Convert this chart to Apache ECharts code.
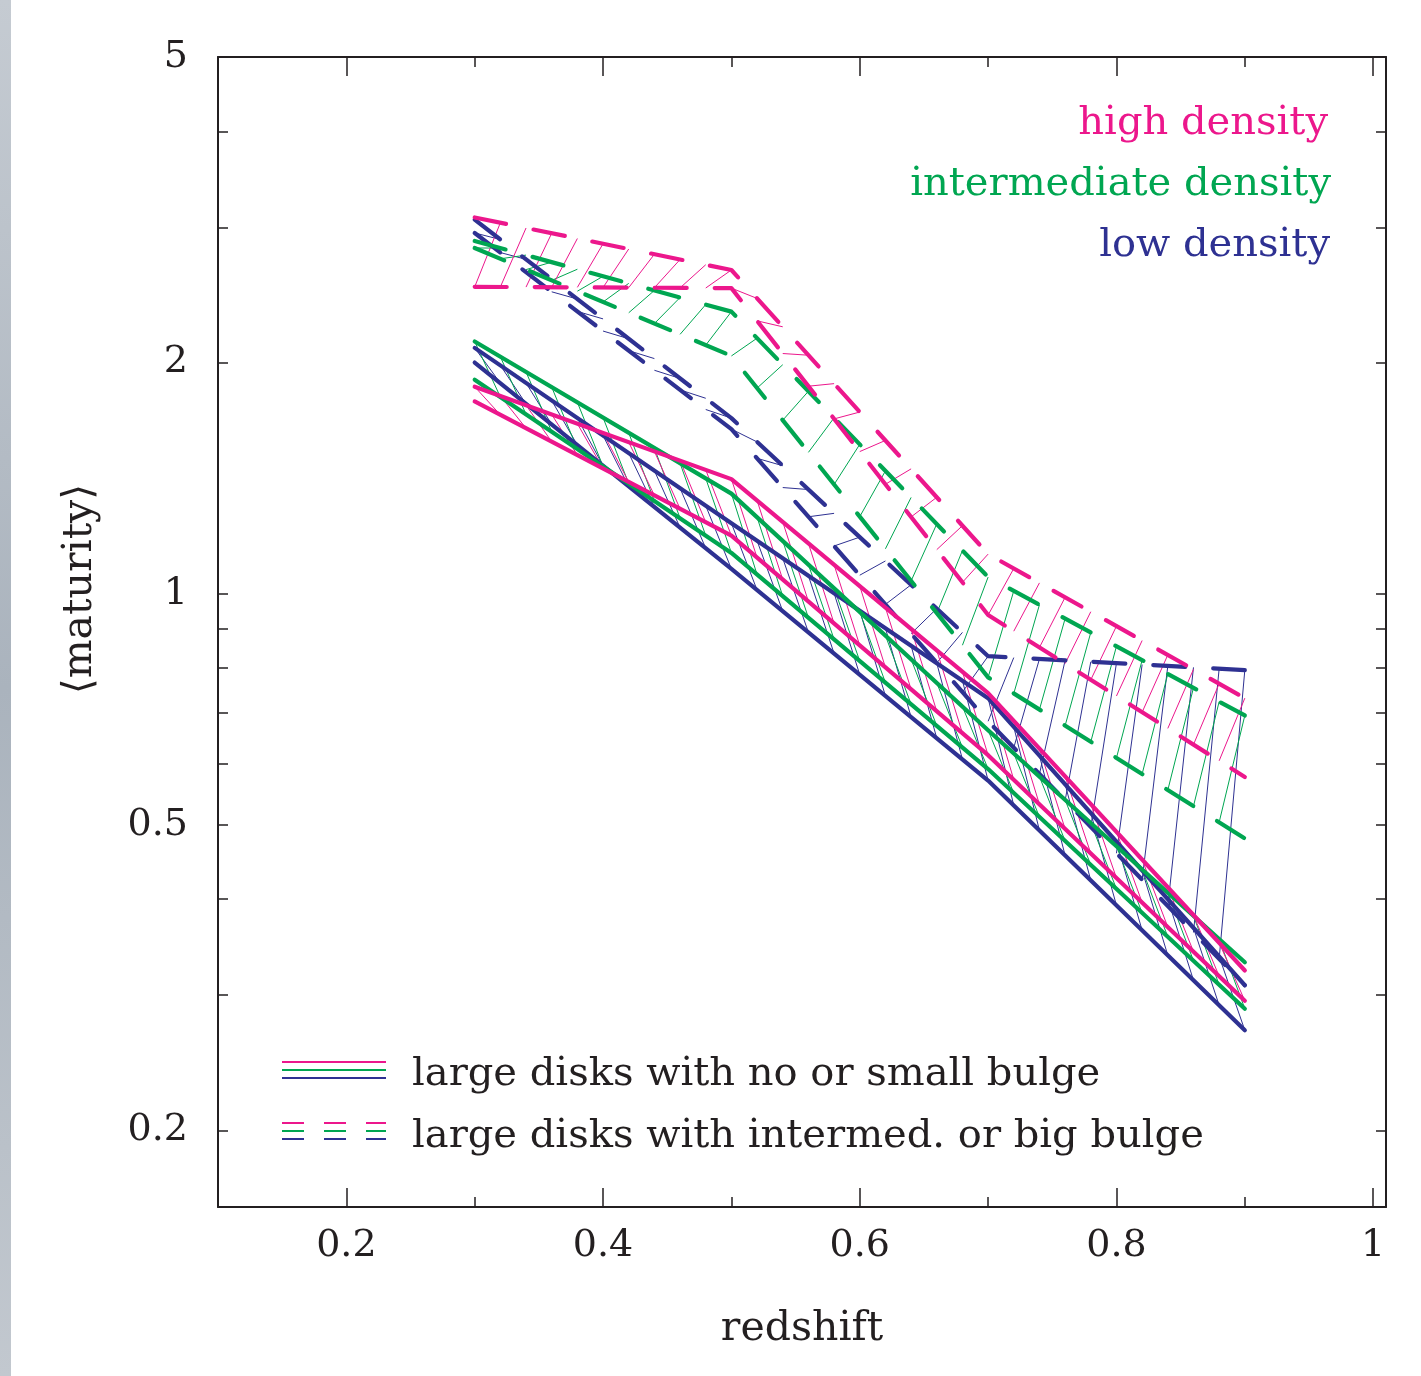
<!DOCTYPE html>
<html><head><meta charset="utf-8">
<script src="https://cdn.jsdelivr.net/npm/echarts@6/dist/echarts.min.js"></script>
<style>html,body{margin:0;padding:0;background:#fff}#c{width:1421px;height:1376px}</style>
</head><body><div id="c"></div>
<script>
// ---- data ----
const redshift = [0.3, 0.5, 0.7, 0.9];
// solid bands: large disks with no or small bulge
const highSmallUpper  = [1.86, 1.41, 0.742, 0.323];
const highSmallLower  = [1.78, 1.19, 0.616, 0.295];
const interSmallUpper = [2.13, 1.35, 0.664, 0.331];
const interSmallLower = [1.90, 1.13, 0.591, 0.288];
const lowSmallUpper   = [2.09, 1.235, 0.731, 0.309];
const lowSmallLower   = [2.00, 1.077, 0.571, 0.270];
// dashed bands: large disks with intermed. or big bulge
const highBigUpper  = [3.09, 2.64, 1.126, 0.731];
const highBigLower  = [2.51, 2.50, 0.938, 0.577];
const interBigUpper = [2.88, 2.33, 1.051, 0.694];
const interBigLower = [2.82, 2.04, 0.778, 0.480];
const lowBigUpper   = [3.07, 1.693, 0.829, 0.795];
const lowBigLower   = [2.95, 1.638, 0.682, 0.309];
// ticks
const xTickLabels = [0.2, 0.4, 0.6, 0.8, 1];
const xMinorTicks = [0.3, 0.5, 0.7, 0.9];
const yTickLabels = [0.2, 0.5, 1, 2, 5];
const yTicks = [0.2, 0.3, 0.4, 0.5, 0.6, 0.7, 0.8, 0.9, 1, 2, 3, 4, 5];
const densityLabels = ['high density', 'intermediate density', 'low density'];
const legendLabels = ['large disks with no or small bulge', 'large disks with intermed. or big bulge'];

// ---- styles ----
const PINK = '#ec178c', GREEN = '#00a651', BLUE = '#2e3192', INK = '#231f20';
const FONT = 'DejaVu Serif';
const HATCH_STEP = 0.02;

const chart = echarts.init(document.getElementById('c'), null, {renderer: 'canvas'});
const fmt = v => String(parseFloat(Number(v).toPrecision(6)));

function lineSeries(name, arr, color, dashed) {
  return {
    name, type: 'line', xAxisIndex: 0, yAxisIndex: 0,
    data: redshift.map((x, i) => [x, arr[i]]),
    symbol: 'none', silent: true, z: 5,
    lineStyle: {color, width: 4.2, type: dashed ? [32, 28] : 'solid', cap: 'round', join: 'round'}
  };
}
// hatch between two band lines: from line A at x to line B at x+step
function hatchSeries(fromArr, toArr, color) {
  const segs = [];
  for (let i = 0; i < redshift.length - 1; i++) {
    segs.push([redshift[i], fromArr[i], toArr[i], redshift[i + 1], fromArr[i + 1], toArr[i + 1]]);
  }
  return {
    type: 'custom', xAxisIndex: 0, yAxisIndex: 0, silent: true, z: 3,
    data: segs,
    encode: {x: [0, 3], y: [1, 2, 4, 5]},
    renderItem: function (params, api) {
      const x0 = api.value(0), a0 = api.value(1), b0 = api.value(2);
      const x1 = api.value(3), a1 = api.value(4), b1 = api.value(5);
      const pa0 = api.coord([x0, a0]), pa1 = api.coord([x1, a1]);
      const pb0 = api.coord([x0, b0]), pb1 = api.coord([x1, b1]);
      const n = Math.round((x1 - x0) / HATCH_STEP);
      const children = [];
      for (let k = 0; k < n; k++) {
        const t0 = k / n, t1 = (k + 1) / n;
        children.push({
          type: 'line',
          shape: {
            x1: pa0[0] + (pa1[0] - pa0[0]) * t0, y1: pa0[1] + (pa1[1] - pa0[1]) * t0,
            x2: pb0[0] + (pb1[0] - pb0[0]) * t1, y2: pb0[1] + (pb1[1] - pb0[1]) * t1
          },
          style: {stroke: color, lineWidth: 1, fill: null}
        });
      }
      return {type: 'group', children};
    }
  };
}

const XMIN = 0.1, XMAX = 1.01, YMIN = 0.1589, YMAX = 5.0005;
const tickStyle = {color: INK, width: 1.5};
function xAxisDef(pos, ticks, len, withLine, withLabels) {
  return {
    type: 'value', position: pos, min: XMIN, max: XMAX,
    axisLine: {show: withLine, onZero: false, lineStyle: {color: INK, width: 2}},
    axisTick: {show: true, inside: true, length: len, customValues: ticks, lineStyle: tickStyle},
    axisLabel: withLabels ? {show: true, customValues: ticks, margin: 20, fontFamily: FONT, fontSize: 38, color: INK, formatter: fmt} : {show: false},
    splitLine: {show: false}
  };
}
function yAxisDef(pos, withLabels) {
  return {
    type: 'log', logBase: 10, position: pos, min: YMIN, max: YMAX,
    axisLine: {show: true, onZero: false, lineStyle: {color: INK, width: 2}},
    axisTick: {show: true, inside: true, length: 10, customValues: yTicks, lineStyle: tickStyle},
    axisLabel: withLabels ? {show: true, customValues: yTickLabels, margin: 30, fontFamily: FONT, fontSize: 38, color: INK, formatter: fmt} : {show: false},
    splitLine: {show: false}, minorTick: {show: false}
  };
}

const xb = xAxisDef('bottom', xTickLabels, 19, true, true);
xb.name = 'redshift'; xb.nameLocation = 'middle'; xb.nameGap = 102;
xb.nameTextStyle = {fontFamily: FONT, fontSize: 41, color: INK};

const legendX0 = 282, legendX1 = 386;
const TXT = '40px "DejaVu Serif"';
const graphics = [
  {type: 'rect', left: 0, top: 0, shape: {width: 11, height: 1376}, silent: true,
   style: {fill: new echarts.graphic.LinearGradient(0, 0, 0, 1, [{offset: 0, color: '#c5cbd2'}, {offset: 0.5, color: '#aab3bd'}, {offset: 1, color: '#c2c8cf'}])}},
  {type: 'text', x: 80, y: 589, rotation: Math.PI / 2, silent: true,
   style: {text: '\u27E8maturity\u27E9', font: '41px "DejaVu Serif"', fill: INK, align: 'center', verticalAlign: 'middle'}},
  {type: 'text', x: 1328, y: 124, silent: true, style: {text: densityLabels[0], font: TXT, fill: PINK, align: 'right', verticalAlign: 'middle'}},
  {type: 'text', x: 1331, y: 185, silent: true, style: {text: densityLabels[1], font: TXT, fill: GREEN, align: 'right', verticalAlign: 'middle'}},
  {type: 'text', x: 1330, y: 246, silent: true, style: {text: densityLabels[2], font: TXT, fill: BLUE, align: 'right', verticalAlign: 'middle'}},
  {type: 'text', x: 412, y: 1075, silent: true, style: {text: legendLabels[0], font: TXT, fill: INK, align: 'left', verticalAlign: 'middle'}},
  {type: 'text', x: 412, y: 1137, silent: true, style: {text: legendLabels[1], font: TXT, fill: INK, align: 'left', verticalAlign: 'middle'}}
];
[[PINK, 1062], [GREEN, 1070], [BLUE, 1078]].forEach(([c, y]) => graphics.push(
  {type: 'line', silent: true, shape: {x1: legendX0, y1: y, x2: legendX1, y2: y}, style: {stroke: c, lineWidth: 2}}));
[[PINK, 1123], [GREEN, 1131], [BLUE, 1139]].forEach(([c, y]) => graphics.push(
  {type: 'line', silent: true, shape: {x1: legendX0, y1: y, x2: legendX1, y2: y}, style: {stroke: c, lineWidth: 2, lineDash: [22, 20]}}));

chart.setOption({
  animation: false,
  backgroundColor: '#ffffff',
  grid: {left: 218, right: 35, top: 57, bottom: 169, containLabel: false},
  xAxis: [
    xb,
    xAxisDef('bottom', xMinorTicks, 10, false, false),
    xAxisDef('top', xTickLabels, 19, true, false),
    xAxisDef('top', xMinorTicks, 10, false, false)
  ],
  yAxis: [yAxisDef('left', true), yAxisDef('right', false)],
  graphic: graphics,
  series: [
    hatchSeries(lowBigLower, lowBigUpper, BLUE),
    hatchSeries(interBigLower, interBigUpper, GREEN),
    hatchSeries(highBigLower, highBigUpper, PINK),
    hatchSeries(lowSmallUpper, lowSmallLower, BLUE),
    hatchSeries(interSmallUpper, interSmallLower, GREEN),
    hatchSeries(highSmallUpper, highSmallLower, PINK),
    lineSeries('low density, big bulge (upper)', lowBigUpper, BLUE, true),
    lineSeries('low density, big bulge (lower)', lowBigLower, BLUE, true),
    lineSeries('intermediate density, big bulge (upper)', interBigUpper, GREEN, true),
    lineSeries('intermediate density, big bulge (lower)', interBigLower, GREEN, true),
    lineSeries('high density, big bulge (upper)', highBigUpper, PINK, true),
    lineSeries('high density, big bulge (lower)', highBigLower, PINK, true),
    lineSeries('low density, small bulge (upper)', lowSmallUpper, BLUE, false),
    lineSeries('low density, small bulge (lower)', lowSmallLower, BLUE, false),
    lineSeries('intermediate density, small bulge (upper)', interSmallUpper, GREEN, false),
    lineSeries('intermediate density, small bulge (lower)', interSmallLower, GREEN, false),
    lineSeries('high density, small bulge (upper)', highSmallUpper, PINK, false),
    lineSeries('high density, small bulge (lower)', highSmallLower, PINK, false)
  ]
});
</script>
</body></html>
